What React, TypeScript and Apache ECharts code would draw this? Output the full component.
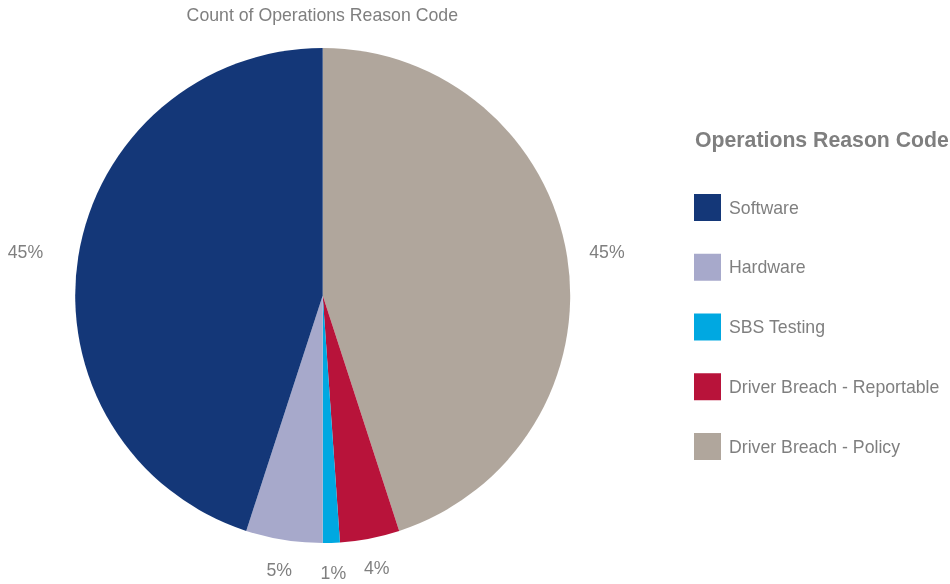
import React, { useEffect, useRef } from "react";
import * as echarts from "echarts";

const chartTitle = "Count of Operations Reason Code";
const legendTitle = "Operations Reason Code";
// Pie data in clockwise order from 12 o'clock
const categories = [
  "Driver Breach - Policy",
  "Driver Breach - Reportable",
  "SBS Testing",
  "Hardware",
  "Software",
];
const values = [81, 7, 2, 9, 81];
const colors = ["#B0A69C", "#B8133A", "#00A8E1", "#A7A9CB", "#143778"];
const legendOrder = [
  "Software",
  "Hardware",
  "SBS Testing",
  "Driver Breach - Reportable",
  "Driver Breach - Policy",
];

const FONT = "'Liberation Sans', Arial, sans-serif";
const GRAY = "#7F7F7F";

export default function App() {
  const ref = useRef<HTMLDivElement>(null);
  useEffect(() => {
    if (!ref.current) return;
    const chart = echarts.init(ref.current, null, { renderer: "svg" });
    const cy = 295.5;
    chart.setOption({
      animation: false,
      textStyle: { fontFamily: FONT },
      graphic: [
        {
          type: "text",
          x: 322.3,
          y: 15,
          style: {
            text: chartTitle,
            fill: GRAY,
            font: `17.7px ${FONT}`,
            align: "center",
            verticalAlign: "middle",
          },
        },
        {
          type: "text",
          x: 695,
          y: 139.5,
          style: {
            text: legendTitle,
            fill: GRAY,
            font: `bold 21.25px ${FONT}`,
            align: "left",
            verticalAlign: "middle",
          },
        },
      ],
      legend: {
        orient: "vertical",
        left: 694,
        top: 194,
        padding: 0,
        itemWidth: 27,
        itemHeight: 27,
        itemGap: 32.75,
        icon: "rect",
        data: legendOrder,
        textStyle: {
          color: GRAY,
          fontSize: 17.7,
          fontFamily: FONT,
          padding: [0, 0, 1, 3],
        },
      },
      series: [
        {
          type: "pie",
          center: [322.7, cy],
          radius: 247.5,
          startAngle: 90,
          clockwise: true,
          avoidLabelOverlap: false,
          itemStyle: { borderWidth: 0 },
          label: {
            show: true,
            position: "outside",
            color: GRAY,
            fontSize: 17.7,
            fontFamily: FONT,
            distanceToLabelLine: 5,
            formatter: (p: any) => Math.round(p.percent) + "%",
          },
          labelLine: { show: false, length: 30.5, length2: 0 },
          labelLayout: (p: any) => {
            const r = p.labelRect;
            const midY = r.y + r.height / 2;
            if (midY > cy + 200) {
              if (p.align === "right") return { dx: r.width / 2 + 5 };
              return { dx: -(r.width / 2 + 5) + 1 };
            }
            if (p.align === "left") return { dx: -13 };
            return {};
          },
          emphasis: { disabled: true },
          data: categories.map((c, i) => ({
            name: c,
            value: values[i],
            itemStyle: { color: colors[i] },
          })),
        },
      ],
    });
    return () => chart.dispose();
  }, []);
  return (
    <div
      ref={ref}
      style={{ position: "fixed", left: 0, top: 0, width: 950, height: 584 }}
    />
  );
}
